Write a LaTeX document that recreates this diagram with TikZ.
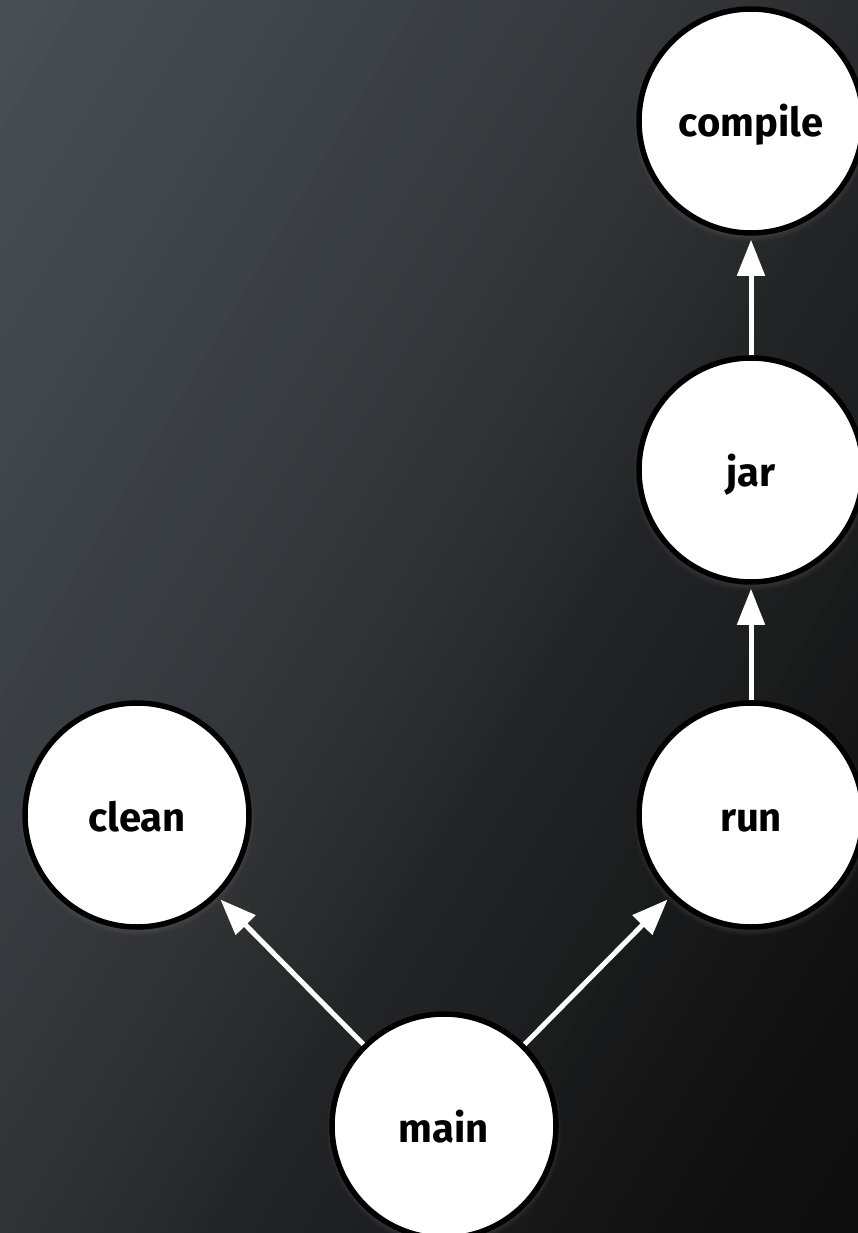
\documentclass[tikz,border=0pt]{standalone}
\usepackage{fontspec}
\setmainfont{Fira Sans}
\usetikzlibrary{arrows.meta,shadows,fadings}
\definecolor{bgA}{RGB}{72,80,84}
\definecolor{bgB}{RGB}{56,60,64}
\definecolor{bgC}{RGB}{48,50,52}
\definecolor{bgD}{RGB}{36,38,39}
\definecolor{bgE}{RGB}{16,16,16}
\definecolor{bgF}{RGB}{12,12,12}
\begin{document}
\begin{tikzpicture}[x=1pt,y=-1pt,
  task/.style={circle, draw=black, fill=white, line width=5.5pt, minimum size=224pt,
    inner sep=0pt, text height=32pt, text depth=0pt,
    font=\fontsize{40}{48}\selectfont\bfseries, text=black,
    circular drop shadow={shadow xshift=0pt, shadow yshift=-3pt, opacity=0.55, shadow scale=1.05}},
  dep/.style={draw=white, line width=5pt, -{Triangle[length=36pt,width=27pt]}, shorten >=4pt}]
\useasboundingbox (0,0) rectangle (858,1233);
\begin{scope}
  \clip (0,0) rectangle (858,1233);
  \begin{scope}[rotate=-30.93]
    \foreach \a/\b/\ca/\cb in {-80/0/bgA/bgA, 0/450/bgA/bgB, 450/650/bgB/bgC, 650/806/bgC/bgD, 806/1234/bgD/bgE, 1234/1440/bgE/bgF}{
      \foreach \i in {0,...,19}{
        \pgfmathsetmacro\ua{\a+(\b-\a)*\i/20}
        \pgfmathsetmacro\ub{\a+(\b-\a)*(\i+1)/20+1}
        \pgfmathtruncatemacro\p{\i*5+2}
        \fill[\cb!\p!\ca] (\ua,-2500) rectangle (\ub,2500);
      }
    }
  \end{scope}
\end{scope}
\node[task] (compile) at (751,121) {compile};
\node[task] (jar) at (751,470) {jar};
\node[task] (run) at (751,815) {run};
\node[task] (clean) at (137,815) {clean};
\node[task] (main) at (444,1126) {main};
\draw[dep] (jar) -- (compile);
\draw[dep] (run) -- (jar);
\draw[dep] (main) -- (clean);
\draw[dep] (main) -- (run);
\end{tikzpicture}
\end{document}
